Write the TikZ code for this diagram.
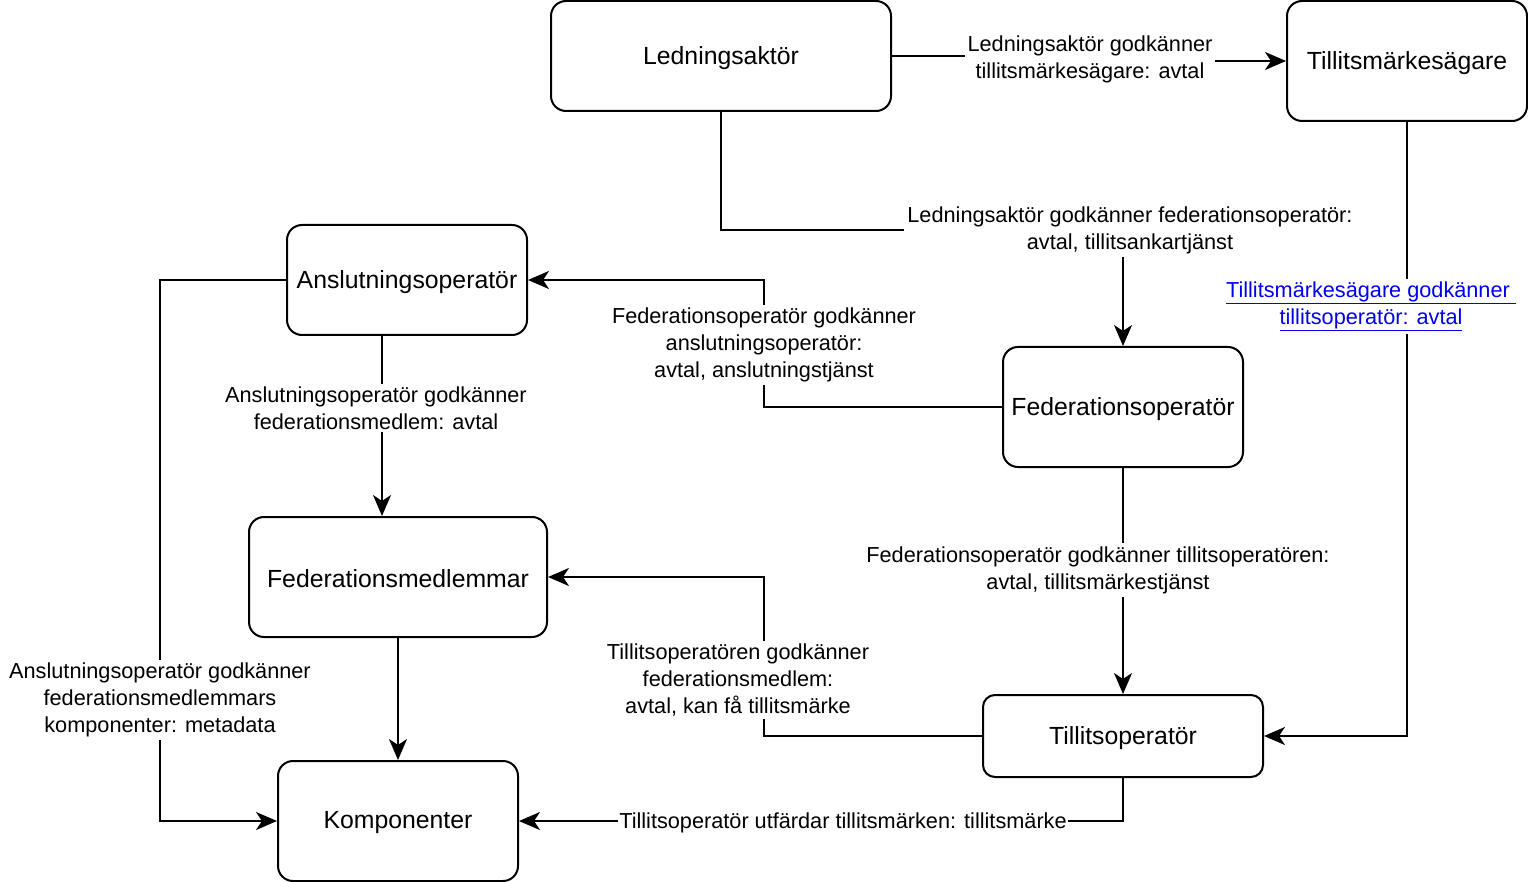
\documentclass[tikz,border=0pt]{standalone}
\usepackage{fontspec}
\setmainfont{Liberation Sans}
\usetikzlibrary{arrows.meta}
\definecolor{linkblue}{RGB}{0,0,238}
\tikzset{
  box/.style={draw=black, line width=2pt, rounded corners=15pt, inner sep=0pt, fill=white,
    font=\fontsize{24.8}{29}\selectfont},
  boxtext/.style={inner sep=0pt, font=\fontsize{24.8}{29}\selectfont},
  lbl/.style={fill=white, inner sep=3pt, align=center, text=black,
    font=\fontsize{21.7}{27}\selectfont},
  conn/.style={line width=2pt, -{Stealth[length=21pt,width=18pt,inset=6pt]}},
}
\begin{document}
\begin{tikzpicture}[x=1pt,y=-1pt]
\useasboundingbox (0,0) rectangle (1528,882);
% nodes
\node[box, minimum width=340pt, minimum height=110pt] (L) at (721,56) {};
\node[box, minimum width=240pt, minimum height=120pt] (T) at (1407,61) {};
\node[box, minimum width=240pt, minimum height=110pt] (A) at (407,280) {};
\node[box, minimum width=240pt, minimum height=120pt] (F) at (1123,407) {};
\node[box, minimum width=298pt, minimum height=120pt] (FM) at (398,577) {};
\node[box, minimum width=280pt, minimum height=82pt, rounded corners=12pt] (TO) at (1123,736) {};
\node[box, minimum width=240pt, minimum height=120pt] (K) at (398,821) {};
\node[boxtext] (Lt) at ([yshift=-2pt]L.center) {Ledningsaktör};
\node[boxtext] (Tt) at ([yshift=-2pt]T.center) {Tillitsmärkesägare};
\node[boxtext] (At) at ([yshift=-2pt]A.center) {Anslutningsoperatör};
\node[boxtext] (Ft) at ([yshift=-2pt]F.center) {Federationsoperatör};
\node[boxtext] (FMt) at ([yshift=-2pt]FM.center) {Federationsmedlemmar};
\node[boxtext] (TOt) at ([yshift=-2pt]TO.center) {Tillitsoperatör};
\node[boxtext] (Kt) at ([yshift=-2pt]K.center) {Komponenter};
% label anchors
\coordinate (l1) at (1090,56);
% connectors
\draw[conn] (L.east) -- (L.east -| l1) |- (T.west);
\draw[conn] (L.south) -- ++(0,118) -| (F.north);
\draw[conn] (T.south) |- (TO.east);
\draw[conn] (F.west) -- ++(-238,0) |- (A.east);
\draw[conn] ([xshift=-25pt]A.south) -- ([xshift=-25pt]A.south |- FM.north);
\draw[conn] (F.south) -- (TO.north);
\draw[conn] (TO.west) -- ++(-218,0) |- (FM.east);
\draw[conn] (FM.south) -- (K.north);
\draw[conn] (A.west) -- ++(-126,0) |- (K.west);
\draw[conn] (TO.south) |- (K.east);
% labels
\node[lbl] (t1) at (1090,59) {Ledningsaktör godkänner\\ tillitsmärkesägare: avtal};
\node[lbl] (t2) at (1130,230) {Ledningsaktör godkänner federationsoperatör:\\ avtal, tillitsankartjänst};
\node[lbl, text=linkblue] (t3) at (1371,306.5) {$\underline{\hbox{Tillitsmärkesägare godkänner\ }}$\\ $\underline{\hbox{tillitsoperatör: avtal}}$};
\node[lbl] (t4) at (764,345) {Federationsoperatör godkänner\\ anslutningsoperatör:\\ avtal, anslutningstjänst};
\node[lbl] (t5) at (376,408) {Anslutningsoperatör godkänner\\ federationsmedlem: avtal};
\node[lbl] (t6) at (1098,570) {Federationsoperatör godkänner tillitsoperatören:\\ avtal, tillitsmärkestjänst};
\node[lbl] (t7) at (738,680) {Tillitsoperatören godkänner\\ federationsmedlem:\\ avtal, kan få tillitsmärke};
\node[lbl] (t8) at (160,700) {Anslutningsoperatör godkänner\\ federationsmedlemmars\\ komponenter: metadata};
\node[lbl, inner sep=1pt] (t9) at (843,823) {Tillitsoperatör utfärdar tillitsmärken: tillitsmärke};
\end{tikzpicture}
\end{document}
